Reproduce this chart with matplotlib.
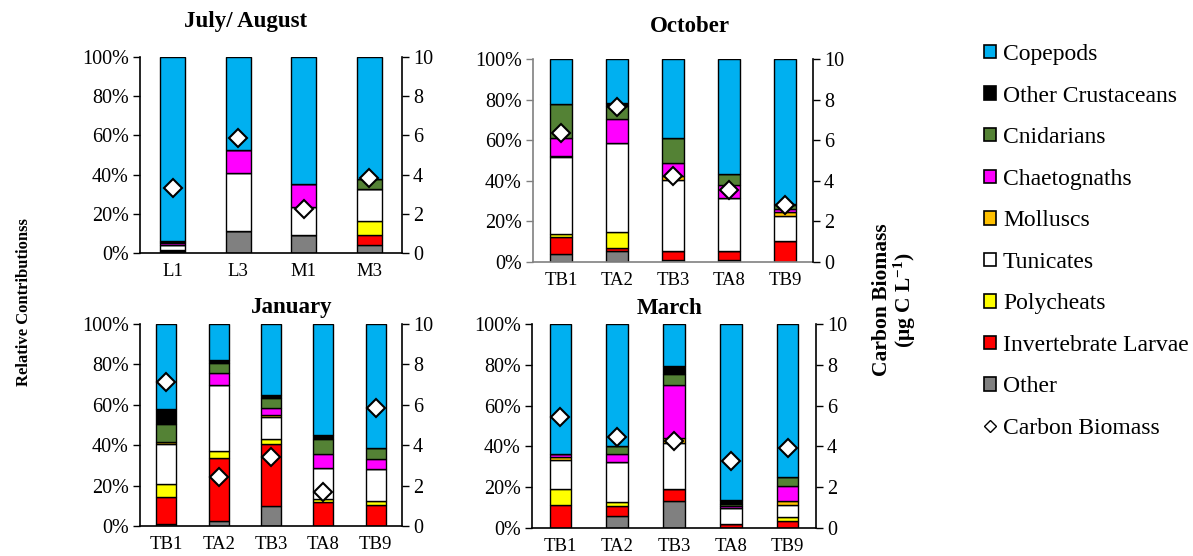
import matplotlib
matplotlib.use('Agg')
import matplotlib.pyplot as plt
from matplotlib.patches import Patch
from matplotlib.lines import Line2D

plt.rcParams['font.family'] = ['Liberation Serif', 'DejaVu Serif']
plt.rcParams['mathtext.fontset'] = 'custom'
plt.rcParams['mathtext.rm'] = 'Liberation Serif'
plt.rcParams['mathtext.bf'] = 'Liberation Serif:bold'

# stacking order, bottom to top
taxa = ['Other', 'Invertebrate Larvae', 'Polycheats', 'Tunicates', 'Molluscs',
        'Chaetognaths', 'Cnidarians', 'Other Crustaceans', 'Copepods']
colors = ['#808080', '#FF0000', '#FFFF00', '#FFFFFF', '#FFC000',
          '#FF00FF', '#548235', '#000000', '#00B0F0']

# relative contribution (%) of each taxon, one row per taxon
jul_sites = ['L1', 'L3', 'M1', 'M3']
jul_pct = [
    [0.5, 11.4, 9.0, 3.9],
    [0.4, 0.0, 0.0, 5.1],
    [0.8, 0.0, 0.0, 7.2],
    [2.3, 29.4, 14.3, 16.5],
    [0.0, 0.0, 0.0, 0.0],
    [1.3, 11.8, 11.9, 0.0],
    [0.4, 0.0, 0.0, 5.1],
    [0.2, 0.0, 0.0, 0.0],
    [94.1, 47.4, 64.8, 62.2],
]
jul_carbon = [3.32, 5.88, 2.24, 3.83]

oct_sites = ['TB1', 'TA2', 'TB3', 'TA8', 'TB9']
oct_pct = [
    [3.9, 5.6, 1.0, 0.8, 0.0],
    [8.4, 1.2, 4.6, 4.8, 10.5],
    [1.5, 8.0, 0.0, 0.0, 0.0],
    [37.9, 43.8, 34.6, 25.9, 12.0],
    [0.6, 0.0, 2.3, 0.0, 2.1],
    [8.6, 11.7, 6.3, 6.3, 1.6],
    [16.9, 6.7, 12.1, 5.4, 2.1],
    [0.2, 1.5, 0.0, 0.0, 0.3],
    [22.0, 21.5, 39.1, 56.8, 71.4],
]
oct_carbon = [6.35, 7.64, 4.25, 3.56, 2.79]

jan_sites = ['TB1', 'TA2', 'TB3', 'TA8', 'TB9']
jan_pct = [
    [1.1, 2.5, 9.9, 0.0, 0.0],
    [13.1, 31.0, 30.5, 11.7, 10.2],
    [6.4, 3.6, 2.5, 1.5, 2.2],
    [20.0, 32.9, 10.9, 15.3, 15.7],
    [1.0, 0.0, 1.0, 0.0, 0.0],
    [0.0, 5.9, 3.8, 7.0, 4.9],
    [8.7, 5.0, 4.9, 7.7, 5.6],
    [7.6, 1.3, 1.4, 1.8, 0.0],
    [42.1, 17.8, 35.1, 55.0, 61.4],
]
jan_carbon = [7.15, 2.41, 3.43, 1.70, 5.83]

mar_sites = ['TB1', 'TA2', 'TB3', 'TA8', 'TB9']
mar_pct = [
    [0.0, 5.7, 13.1, 0.0, 0.0],
    [11.1, 5.0, 6.2, 2.1, 3.4],
    [7.9, 2.1, 0.0, 0.0, 2.0],
    [14.3, 19.7, 22.2, 7.7, 5.7],
    [1.5, 0.0, 2.8, 0.0, 2.2],
    [1.3, 3.6, 25.9, 0.8, 7.2],
    [0.0, 3.9, 5.2, 1.2, 4.6],
    [0.0, 0.0, 4.1, 1.8, 0.0],
    [63.9, 60.0, 20.5, 86.4, 74.9],
]
mar_carbon = [5.43, 4.48, 4.26, 3.28, 3.93]

W, H = 1193, 556


def panel(fig, box, sites, pct, carbon, title, title_xy, axis_color='black'):
    left, top, right, bottom = box
    ax = fig.add_axes([left / W, 1 - bottom / H, (right - left) / W, (bottom - top) / H])
    x = list(range(len(sites)))
    base = [0.0] * len(sites)
    for vals, c in zip(pct, colors):
        ax.bar(x, vals, 0.38, bottom=base, color=c, edgecolor='black', linewidth=1.0, zorder=2)
        base = [b + v for b, v in zip(base, vals)]
    ax.set_xlim(-0.5, len(sites) - 0.5)
    ax.set_ylim(0, 100)
    ax.set_yticks(range(0, 101, 20))
    ax.set_yticklabels(['%d%%' % v for v in range(0, 101, 20)])
    ax.set_xticks(x)
    ax.set_xticklabels(sites)
    ax.tick_params(axis='y', direction='out', length=5, width=1, labelsize=14.5, pad=3,
                   color=axis_color)
    ax.tick_params(axis='x', length=0, labelsize=13.5, pad=7)
    for s in ['top', 'right']:
        ax.spines[s].set_visible(False)
    for s in ['left', 'bottom']:
        ax.spines[s].set_color(axis_color)
        ax.spines[s].set_linewidth(1.2)

    # carbon biomass on the right-hand axis
    ax2 = ax.twinx()
    ax2.plot(x, carbon, linestyle='none', marker='D', markersize=9.5,
             markerfacecolor='white', markeredgecolor='black', markeredgewidth=1.5, zorder=3)
    ax2.set_ylim(0, 10)
    ax2.set_yticks(range(0, 11, 2))
    ax2.tick_params(axis='y', direction='out', length=5, width=1, labelsize=14.5, pad=3)
    for s in ['top', 'left', 'bottom']:
        ax2.spines[s].set_visible(False)
    ax2.spines['right'].set_linewidth(1.2)

    fig.text(title_xy[0] / W, 1 - title_xy[1] / H, title, ha='center', va='center',
             fontsize=16.5, fontweight='bold')
    return ax


fig = plt.figure(figsize=(W / 100, H / 100), dpi=100)

panel(fig, (140, 57, 402, 253), jul_sites, jul_pct, jul_carbon, 'July/ August', (246, 21))
panel(fig, (533, 59, 813, 262), oct_sites, oct_pct, oct_carbon, 'October', (690, 27),
      axis_color='#808080')
panel(fig, (140, 324, 402, 526), jan_sites, jan_pct, jan_carbon, 'January', (292, 307))
panel(fig, (532, 324, 816, 528), mar_sites, mar_pct, mar_carbon, 'March', (670, 309))

fig.text(24 / W, 1 - 302 / H, 'Relative Contributionss', rotation=90, ha='center',
         va='center', fontsize=12, fontweight='bold')
fig.text(895 / W, 1 - 300 / H, 'Carbon Biomass\n(μg C L$\\mathbf{^{-1}}$)', rotation=90,
         ha='center', va='center', fontsize=15.5, fontweight='bold', linespacing=1.0)

handles = [Patch(facecolor=c, edgecolor='black', linewidth=1.2)
           for c in reversed(colors)]
handles.append(Line2D([], [], linestyle='none', marker='D', markersize=6.5,
                      markerfacecolor='white', markeredgecolor='black', markeredgewidth=1))
labels = list(reversed(taxa)) + ['Carbon Biomass']
fig.legend(handles, labels, loc='upper left', bbox_to_anchor=(984 / W, 1 - 44 / H),
           frameon=False, prop={'family': ['Liberation Serif'], 'size': 17},
           handlelength=0.5, handleheight=0.5, handletextpad=0.3, labelspacing=0.87,
           borderpad=0, borderaxespad=0)

fig.savefig('out.png', dpi=100)
